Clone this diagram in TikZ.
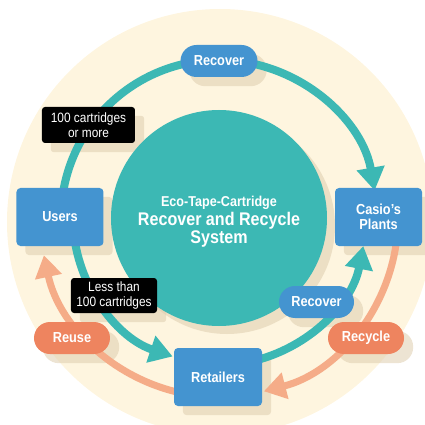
\documentclass[tikz,border=0pt]{standalone}
\usepackage{fontspec}
\setmainfont{Liberation Sans}[FakeStretch=0.88]
\usetikzlibrary{arrows.meta}

\definecolor{creamc}{HTML}{FEF5DF}
\definecolor{tealc}{HTML}{3CB8B4}
\definecolor{bluec}{HTML}{4494D0}
\definecolor{pillorange}{HTML}{EE845F}
\definecolor{arcorange}{HTML}{F5AC88}
\definecolor{shadec}{HTML}{DECDAF}

\pgfdeclarelayer{backdrop}
\pgfdeclarelayer{shadowlayer}
\pgfdeclarelayer{arclayer}
\pgfsetlayers{backdrop,shadowlayer,arclayer,main}

\tikzset{
  stepbox/.style={fill=bluec, rounded corners=4pt, minimum width=87pt,
    minimum height=58pt, inner sep=0pt, text=white, align=center,
    font=\bfseries\fontsize{14.5}{14.5}\selectfont},
  bluepill/.style={fill=bluec, rounded corners=16pt, minimum width=76pt,
    minimum height=32pt, inner sep=0pt, text=white,
    font=\bfseries\fontsize{14.5}{14.5}\selectfont},
  orangepill/.style={bluepill, fill=pillorange},
  tag/.style={fill=black, rounded corners=3pt, inner sep=0pt, text=white,
    align=center, font=\fontsize{13.5}{14.5}\selectfont},
  shade/.style={fill=shadec, opacity=0.55},
  flow/.style={line width=8pt, draw=tealc,
    -{Triangle[length=23pt,width=27pt]}},
  backflow/.style={line width=7pt, draw=arcorange,
    -{Triangle[length=22pt,width=26pt]}}
}

\begin{document}
\begin{tikzpicture}[x=1pt,y=1pt]
\useasboundingbox (-219,-207) rectangle (206,218);

% backdrop disc and the hub's shadow
\begin{pgfonlayer}{backdrop}
  \clip (-219,-207) rectangle (206,218);
  \fill[creamc] (1,-4) circle[radius=213];
  \fill[shade] (8,-8) circle[radius=108];
\end{pgfonlayer}

% central hub
\node[circle, fill=tealc, minimum size=216pt, inner sep=0pt] (hub) at (0,0) {};
\node[text=white, align=center, font=\bfseries\fontsize{18.3}{18.5}\selectfont]
  (title) at (0,-4)
  {{\fontsize{14.3}{14}\selectfont Eco-Tape-Cartridge}\\Recover and Recycle\\System};

% stations
\node[stepbox] (users)  at (-159,1)    {Users};
\node[stepbox] (casio)  at (159.5,1)   {Casio’s\\Plants};
\node[stepbox, minimum width=88pt] (retail) at (-1,-159) {Retailers};

% flow labels
\node[bluepill, minimum width=77pt] (rectop) at (0,157) {Recover};
\node[bluepill, minimum width=75pt] (reclow) at (97.5,-84) {Recover};
\node[orangepill] (reuse)   at (-147,-120) {Reuse};
\node[orangepill] (recycle) at (147,-120)  {Recycle};
\node[tag, minimum width=93pt, minimum height=36pt] (many) at (-130.5,93)
  {100 cartridges\\or more};
\node[tag, minimum width=86pt, minimum height=35pt] (few) at (-105,-77.5)
  {Less than\\100 cartridges};

% drop shadows
\begin{pgfonlayer}{shadowlayer}
  \foreach \n/\r in {users/4,casio/4,retail/4,rectop/16,reclow/16,
                     reuse/16,recycle/16,many/3,few/3}
    \fill[shade, rounded corners=\r pt]
      ([shift={(9,-9)}]\n.south west) rectangle ([shift={(9,-9)}]\n.north east);
\end{pgfonlayer}

% circulation arcs
\begin{pgfonlayer}{arclayer}
  % users -> casio (via top)
  \draw[flow] ([shift={(172:158)}]hub.center)
    arc[start angle=172, end angle=10, radius=158];
  % users -> retailers
  \draw[flow] ([shift={(186:146)}]hub.center)
    arc[start angle=186, end angle=251.5, radius=146];
  % retailers -> casio
  \draw[flow] ([shift={(280:147)}]hub.center)
    arc[start angle=280, end angle=349, radius=147];
  % retailers -> users (reuse)
  \draw[backflow] ([shift={(262:179)}]hub.center)
    arc[start angle=262, end angle=192, radius=179];
  % casio -> retailers (recycle)
  \draw[backflow] ([shift={(-5:179)}]hub.center)
    arc[start angle=-5, end angle=-75.5, radius=179];
\end{pgfonlayer}
\end{tikzpicture}
\end{document}
